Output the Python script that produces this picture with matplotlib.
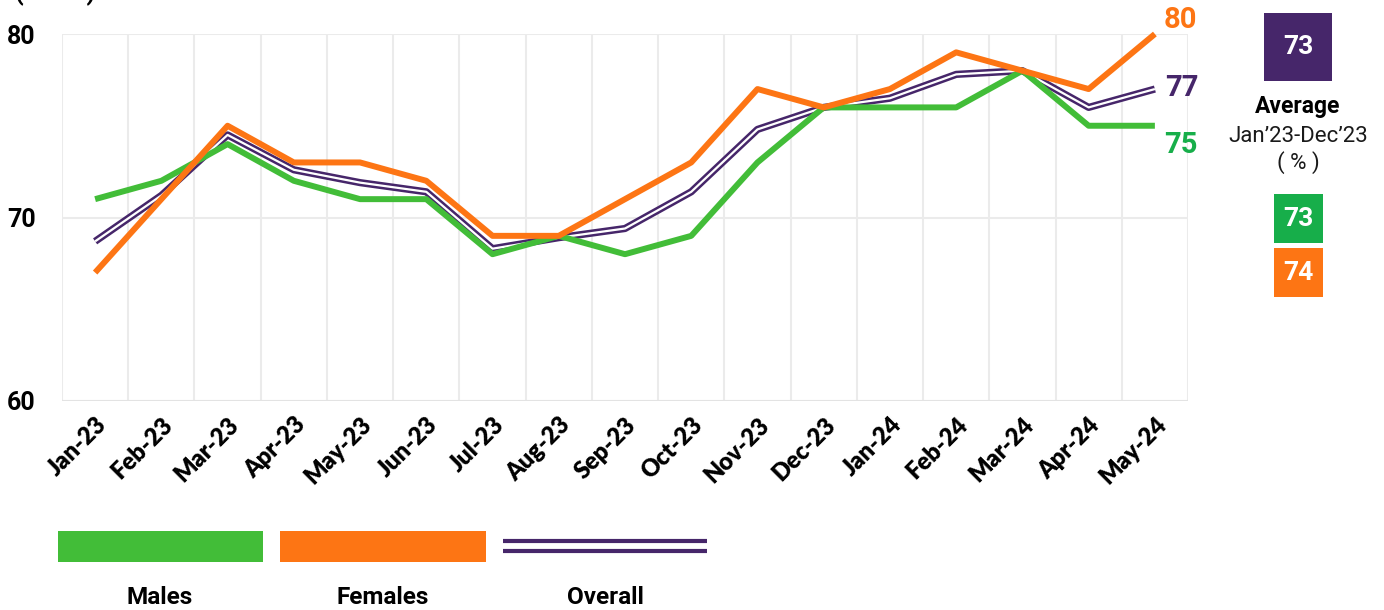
import matplotlib
matplotlib.use("Agg")
import matplotlib.pyplot as plt
from matplotlib.patches import Rectangle
from matplotlib.lines import Line2D

# ---- data ----
months = ["Jan-23", "Feb-23", "Mar-23", "Apr-23", "May-23", "Jun-23", "Jul-23", "Aug-23",
          "Sep-23", "Oct-23", "Nov-23", "Dec-23", "Jan-24", "Feb-24", "Mar-24", "Apr-24", "May-24"]
males = [71, 72, 74, 72, 71, 71, 68, 69, 68, 69, 73, 76, 76, 76, 78, 75, 75]
females = [67, 71, 75, 73, 73, 72, 69, 69, 71, 73, 77, 76, 77, 79, 78, 77, 80]
overall = [68.7, 71.2, 74.5, 72.6, 71.9, 71.4, 68.3, 68.9, 69.4, 71.4, 74.8, 76.0, 76.5, 77.8, 78.0, 76.0, 77.0]
yticks = [60, 70, 80]
avg_overall, avg_males, avg_females = 73, 73, 74
legend_labels = ["Males", "Females", "Overall"]

GREEN = "#42bd38"
GREEN_BOX = "#17ae4a"
ORANGE = "#fd7514"
PURPLE = "#46266a"
GRID = "#ebebeb"
FONT = "Roboto"

W, H = 1384, 610
fig = plt.figure(figsize=(W / 100, H / 100), dpi=100)

def fx(px):
    return px / W

def fy(py):
    return 1 - py / H

ax = fig.add_axes([fx(62), fy(401), fx(1188) - fx(62), fy(34) - fy(401)])
x = list(range(len(months)))
ax.set_xlim(-0.5, len(months) - 0.5)
ax.set_ylim(60, 80)

# grid
for b in range(len(months) + 1):
    ax.axvline(b - 0.5, color=GRID, lw=1.5, zorder=0)
for yv in yticks:
    ax.axhline(yv, color="#e3e3e3" if yv == 60 else GRID, lw=1.5, zorder=0)
for s in ax.spines.values():
    s.set_visible(False)

# lines
ax.plot(x, overall, color=PURPLE, lw=5.2, solid_capstyle="butt", clip_on=False, zorder=2)
ax.plot(x, overall, color="white", lw=1.6, solid_capstyle="butt", clip_on=False, zorder=3)
ax.plot(x, males, color=GREEN, lw=4.3, solid_capstyle="butt", clip_on=False, zorder=4)
ax.plot(x, females, color=ORANGE, lw=4.3, solid_capstyle="butt", clip_on=False, zorder=5)

# ticks
ax.set_yticks(yticks)
ax.set_yticklabels([str(v) for v in yticks], fontsize=18, fontweight="bold", family=FONT)
ax.tick_params(axis="y", length=0, pad=19)
for lab in ax.get_yticklabels():
    lab.set_horizontalalignment("right")
ax.set_xticks(x)
ax.set_xticklabels(months, rotation=45, ha="right", va="top", rotation_mode="anchor",
                   fontsize=17, fontweight="heavy", family="Lato")
ax.tick_params(axis="x", length=0, pad=9)

# end labels
ax.annotate(str(females[-1]), xy=(fx(1180), fy(20)), xycoords="figure fraction",
            ha="center", va="center", color=ORANGE, fontsize=21, fontweight="bold", family=FONT)
ax.annotate(str(round(overall[-1])), xy=(fx(1182), fy(88)), xycoords="figure fraction",
            ha="center", va="center", color=PURPLE, fontsize=21, fontweight="bold", family=FONT)
ax.annotate(str(males[-1]), xy=(fx(1181), fy(145)), xycoords="figure fraction",
            ha="center", va="center", color=GREEN_BOX, fontsize=21, fontweight="bold", family=FONT)

# cut-off title at top
fig.text(fx(14), fy(0.5), "(YoY%)", ha="left", va="baseline", fontsize=18, fontweight="bold", family=FONT)

# right panel
def box(x0, y0, w, h, color, txt, fs):
    fig.add_artist(Rectangle((fx(x0), fy(y0 + h)), fx(w), h / H, transform=fig.transFigure,
                             facecolor=color, edgecolor="none"))
    fig.text(fx(x0 + w / 2), fy(y0 + h / 2), txt, ha="center", va="center", color="white",
             fontsize=fs, fontweight="bold", family=FONT)

box(1264, 13, 68, 68, PURPLE, str(avg_overall), 19)
fig.text(fx(1298), fy(106), "Average", ha="center", va="center", fontsize=16.5,
         fontweight="bold", family=FONT)
fig.text(fx(1298), fy(136), "Jan\u201923-Dec\u201923", ha="center", va="center", fontsize=16,
         fontweight="normal", color="#1a1a1a", family=FONT)
fig.text(fx(1298), fy(163), "( % )", ha="center", va="center", fontsize=16,
         fontweight="normal", color="#1a1a1a", family=FONT)
box(1274, 194, 49, 49, GREEN_BOX, str(avg_males), 19)
box(1274, 248, 49, 49, ORANGE, str(avg_females), 19)

# legend
fig.add_artist(Rectangle((fx(58), fy(562)), fx(205), 31 / H, transform=fig.transFigure,
                         facecolor=GREEN, edgecolor="none"))
fig.add_artist(Rectangle((fx(280), fy(562)), fx(206), 31 / H, transform=fig.transFigure,
                         facecolor=ORANGE, edgecolor="none"))
for yy in (541, 551):
    fig.add_artist(Line2D([fx(503), fx(707)], [fy(yy), fy(yy)], transform=fig.transFigure,
                          color=PURPLE, lw=3.0, solid_capstyle="butt"))
for cx, lab in zip([160, 383, 605], legend_labels):
    fig.text(fx(cx), fy(598), lab, ha="center", va="center", fontsize=17.5,
             fontweight="bold", family=FONT)

fig.savefig("out.png", dpi=100, facecolor="white")
